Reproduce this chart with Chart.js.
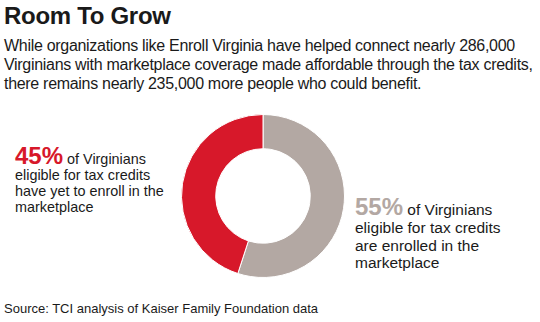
<!DOCTYPE html>
<html><head><meta charset="utf-8">
<script src="https://cdn.jsdelivr.net/npm/chart.js@4"></script>
<style>
html,body{margin:0;padding:0;background:#fff;width:540px;height:322px;overflow:hidden;font-family:"Liberation Sans",Arial,sans-serif;color:#1a1a1a}
div.t{position:absolute;white-space:nowrap;line-height:1}
#title{left:4px;top:3.7px;font-size:24px;font-weight:bold;letter-spacing:-0.3px}
#sub{position:absolute;left:4px;top:36px;font-size:16px;line-height:19px;white-space:nowrap;letter-spacing:-0.3px}
.l{left:15px;font-size:14.4px}
.r{left:355px;font-size:15.5px}
.big{font-weight:bold;font-size:24px}
.red{color:#d7182a}
.gry{color:#b3a8a3}
#src{left:4px;top:301.5px;font-size:13px}
#wrap{position:absolute;left:181px;top:114px;width:164px;height:164px}
</style></head><body>
<div class="t" id="title">Room To Grow</div>
<div id="sub">While organizations like Enroll Virginia have helped connect nearly 286,000<br>Virginians with marketplace coverage made affordable through the tax credits,<br>there remains nearly 235,000 more people who could benefit.</div>

<div class="t big red" style="left:15px;top:143.7px"><span>45%</span><span style="font-weight:normal;font-size:14.4px;color:#1a1a1a"> of Virginians</span></div>
<div class="t l" style="top:168.3px">eligible for tax credits</div>
<div class="t l" style="top:184.3px">have yet to enroll in the</div>
<div class="t l" style="top:200.3px">marketplace</div>

<div class="t big gry" style="left:355px;top:194.7px"><span>55%</span><span style="font-weight:normal;font-size:15.5px;color:#1a1a1a"> of Virginians</span></div>
<div class="t r" style="top:219.9px">eligible for tax credits</div>
<div class="t r" style="top:237.9px">are enrolled in the</div>
<div class="t r" style="top:255.4px">marketplace</div>

<div class="t" id="src">Source: TCI analysis of Kaiser Family Foundation data</div>
<div id="wrap"><canvas id="c" width="164" height="164"></canvas></div>
<script>
const categories = ["Enrolled in the marketplace", "Yet to enroll"];
const shares = [55, 45];
const colors = ["#b3a8a3", "#d7182a"];
new Chart(document.getElementById('c'), {
  type: 'doughnut',
  data: { labels: categories, datasets: [{ data: shares, backgroundColor: colors, borderColor: '#ffffff', borderWidth: 1 }] },
  options: {
    responsive: false, animation: false, cutout: '58%',
    layout: { padding: 0 },
    plugins: { legend: { display: false }, tooltip: { enabled: false } }
  }
});
</script>
</body></html>
